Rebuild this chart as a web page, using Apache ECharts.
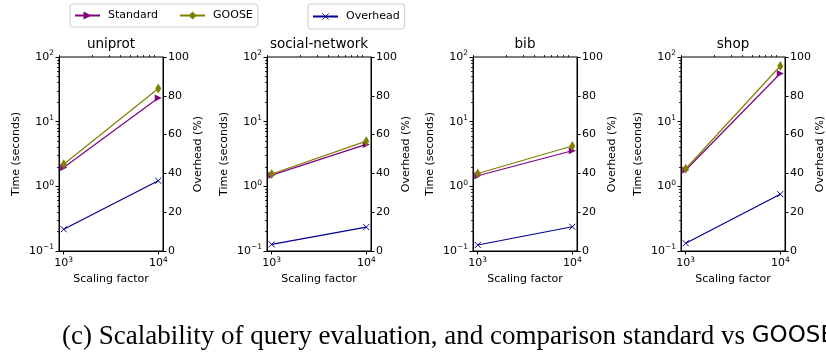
<!DOCTYPE html>
<html>
<head>
<meta charset="utf-8">
<script src="https://cdn.jsdelivr.net/npm/echarts@6/dist/echarts.min.js"></script>
<style>
html, body { margin: 0; padding: 0; background: #fff; }
#main { width: 826px; height: 354px; }
</style>
</head>
<body>
<div id="main"></div>
<script>
// scaling factors on the x axis
const scales = [1000, 10000];
const datasets = ['uniprot', 'social-network', 'bib', 'shop'];
// time in seconds, one pair per dataset
const standardTime = [[1.96, 23.3], [1.49, 4.45], [1.46, 3.55], [1.79, 55.5]];
const gooseTime = [[2.19, 32.5], [1.55, 5.0], [1.58, 4.2], [1.87, 72.6]];
// overhead in percent
const overheadPct = [[11.2, 36.2], [3.4, 12.3], [3.1, 12.5], [4.0, 29.3]];
const xMajorTicks = [1000, 10000];
const xMinorTicks = [900, 2000, 3000, 4000, 5000, 6000, 7000, 8000, 9000];
const timeTicks = [0.1, 1, 10, 100];
const timeMinorTicks = [0.2, 0.3, 0.4, 0.5, 0.6, 0.7, 0.8, 0.9, 2, 3, 4, 5, 6, 7, 8, 9, 20, 30, 40, 50, 60, 70, 80, 90];
const overheadTicks = [0, 20, 40, 60, 80, 100];

const FONT = 'DejaVu Sans';
const FS = 11;
const gridLefts = [59, 267, 473, 681];
const gridW = 104, gridTop = 57, gridH = 194;

const supRich = {
    base: { fontSize: FS, fontFamily: FONT, color: '#000' },
    sup: { fontSize: 7.5, fontFamily: FONT, color: '#000', padding: [0, 0, 7, 0] }
};
function powLabel(v) {
    const e = Math.round(Math.log10(v));
    return '{base|10}{sup|' + (e < 0 ? '\u2212' + (-e) : e) + '}';
}

const myEcharts = echarts.init(document.getElementById('main'));

const grid = [], xAxis = [], yAxis = [], series = [], title = [];
datasets.forEach((name, i) => {
    grid.push({
        left: gridLefts[i], top: gridTop, width: gridW, height: gridH,
        show: true, borderColor: '#000', borderWidth: 1, backgroundColor: 'transparent',
        outerBoundsMode: 'none'
    });
    title.push({
        text: name, left: gridLefts[i] + gridW / 2, top: 37, textAlign: 'center', padding: 0,
        textStyle: { fontFamily: FONT, fontSize: 13.5, fontWeight: 'normal', color: '#000' }
    });
    // major x axis
    xAxis.push({
        type: 'log', gridIndex: i, min: 891, max: 11220,
        name: 'Scaling factor', nameLocation: 'middle', nameGap: 21,
        nameTextStyle: { fontFamily: FONT, fontSize: FS, color: '#000' },
        axisLine: { show: true, lineStyle: { color: '#000', width: 1 } },
        axisTick: { show: true, length: 3.5, customValues: xMajorTicks, lineStyle: { color: '#000' } },
        axisLabel: { customValues: xMajorTicks, formatter: powLabel, rich: supRich, margin: 5 },
        splitLine: { show: false }
    });
    // minor x ticks
    xAxis.push({
        type: 'log', gridIndex: i, min: 891, max: 11220,
        axisLine: { show: false },
        axisTick: { show: true, length: 2, customValues: xMinorTicks, lineStyle: { color: '#000', width: 0.8 } },
        axisLabel: { show: false },
        splitLine: { show: false }
    });
    // time (log) on the left
    yAxis.push({
        type: 'log', gridIndex: i, position: 'left', min: 0.1, max: 100,
        name: 'Time (seconds)', nameLocation: 'middle', nameGap: 37,
        nameTextStyle: { fontFamily: FONT, fontSize: FS, color: '#000' },
        axisLine: { show: true, lineStyle: { color: '#000', width: 1 } },
        axisTick: { show: true, length: 3.5, customValues: timeTicks, lineStyle: { color: '#000' } },
        axisLabel: { customValues: timeTicks, formatter: powLabel, rich: supRich, margin: 5 },
        splitLine: { show: false }
    });
    // overhead (linear) on the right
    yAxis.push({
        type: 'value', gridIndex: i, position: 'right', min: 0, max: 100, interval: 20,
        name: 'Overhead (%)', nameLocation: 'middle', nameGap: 30, nameRotate: 90,
        nameTextStyle: { fontFamily: FONT, fontSize: FS, color: '#000' },
        axisLine: { show: true, lineStyle: { color: '#000', width: 1 } },
        axisTick: { show: true, length: 3.5, lineStyle: { color: '#000' } },
        axisLabel: { fontFamily: FONT, fontSize: FS, color: '#000', margin: 5 },
        splitLine: { show: false }
    });
    // minor time ticks
    yAxis.push({
        type: 'log', gridIndex: i, position: 'left', min: 0.1, max: 100,
        axisLine: { show: false },
        axisTick: { show: true, length: 2, customValues: timeMinorTicks, lineStyle: { color: '#000', width: 0.8 } },
        axisLabel: { show: false },
        splitLine: { show: false }
    });

    series.push({
        name: 'Standard', type: 'line', xAxisIndex: 2 * i, yAxisIndex: 3 * i,
        data: scales.map((s, k) => [s, standardTime[i][k]]),
        symbol: 'triangle', symbolRotate: -90, symbolSize: 7,
        lineStyle: { color: '#800080', width: 1.2 },
        itemStyle: { color: '#800080' },
        animation: false, z: 2
    });
    series.push({
        name: 'GOOSE', type: 'line', xAxisIndex: 2 * i, yAxisIndex: 3 * i,
        data: scales.map((s, k) => [s, gooseTime[i][k]]),
        symbol: 'diamond', symbolSize: [6, 10],
        lineStyle: { color: '#808000', width: 1.2 },
        itemStyle: { color: '#808000' },
        animation: false, z: 3
    });
    series.push({
        name: 'Overhead', type: 'line', xAxisIndex: 2 * i, yAxisIndex: 3 * i + 1,
        data: scales.map((s, k) => [s, overheadPct[i][k]]),
        symbol: 'path://M0,0L10,10M10,0L0,10', symbolSize: 6,
        lineStyle: { color: '#000090', width: 1.2 },
        itemStyle: { color: 'transparent', borderColor: '#000090', borderWidth: 1 },
        animation: false, z: 2
    });
});

title.push({
    text: '(c) Scalability of query evaluation, and comparison standard vs {g|GOOSE}',
    left: 62, top: 323, padding: 0,
    textStyle: {
        fontFamily: 'Liberation Serif', fontSize: 27, fontWeight: 'normal', color: '#000',
        rich: { g: { fontFamily: FONT, fontSize: 23, color: '#000' } }
    }
});

const legendText = { fontFamily: FONT, fontSize: FS, color: '#000', padding: [0, 0, 0, 3] };
const option = {
    animation: false,
    title: title,
    legend: [{
        data: ['Standard', 'GOOSE'], left: 70, top: 4, orient: 'horizontal',
        itemWidth: 25, itemHeight: 10, itemGap: 21,
        padding: [6, 5, 6, 4], borderColor: '#ccc', borderWidth: 1, borderRadius: 3,
        textStyle: legendText
    }, {
        data: [{ name: 'Overhead', itemStyle: { borderWidth: 0.8 } }], left: 308, top: 4,
        itemWidth: 25, itemHeight: 8,
        padding: [7, 5, 7, 4], borderColor: '#ccc', borderWidth: 1, borderRadius: 3,
        textStyle: legendText
    }],
    grid: grid,
    xAxis: xAxis,
    yAxis: yAxis,
    series: series
};
myEcharts.setOption(option);
</script>
</body>
</html>
